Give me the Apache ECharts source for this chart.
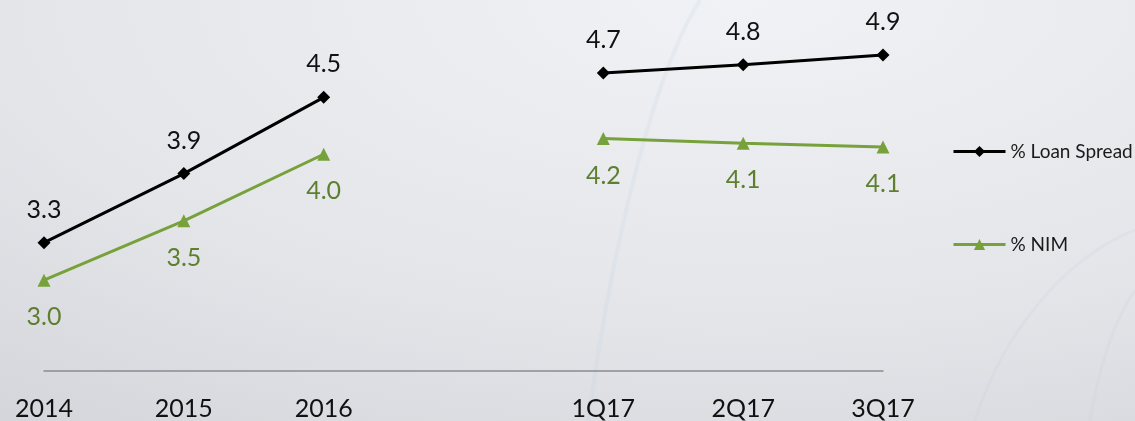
<!DOCTYPE html>
<html>
<head>
<meta charset="utf-8">
<title>% Loan Spread and % NIM</title>
<script src="https://cdn.jsdelivr.net/npm/echarts@6/dist/echarts.min.js"></script>
<style>
  html, body { margin: 0; padding: 0; }
  body {
    width: 1135px; height: 421px; overflow: hidden;
    background: radial-gradient(ellipse 120% 140% at 65% 0%, #f1f2f5 0%, #e4e5e9 55%, #d0d1d6 100%);
  }
  #chart { width: 1135px; height: 421px; }
</style>
</head>
<body>
<div id="chart"></div>
<script>
// Periods: annual figures, a spacer slot, then 2017 quarters
const categories = ['2014', '2015', '2016', '', '1Q17', '2Q17', '3Q17'];
// % Loan Spread (null = gap between annual and quarterly segments)
const loanSpread = [3.31, 3.88, 4.51, null, 4.71, 4.78, 4.86];
// % Net Interest Margin
const nim = [3.0, 3.49, 4.04, null, 4.17, 4.13, 4.10];

const FONT = 'Lato, "Open Sans", sans-serif';
const BLACK = '#000000';
const GREEN = '#77a23b';
const GREEN_TEXT = '#5d7f2f';

const chart = echarts.init(document.getElementById('chart'), null, { renderer: 'canvas' });

const fmt = p => (p.value == null ? '' : Number(p.value).toFixed(1));

chart.setOption({
  backgroundColor: 'transparent',
  animation: false,
  textStyle: { fontFamily: FONT },
  grid: { left: 44, right: 252, top: 38, bottom: 50, containLabel: false },
  legend: {
    orient: 'vertical',
    left: 947,
    top: 137,
    itemWidth: 52,
    itemHeight: 14,
    itemGap: 74,
    lineStyle: { width: 3 },
    textStyle: { fontFamily: FONT, fontSize: 19, color: '#1a1a1a' },
    data: ['% Loan Spread', '% NIM']
  },
  xAxis: {
    type: 'category',
    data: categories,
    boundaryGap: false,
    axisLine: { lineStyle: { color: '#8c8a93', width: 1.5 } },
    axisTick: { show: false },
    splitLine: { show: false },
    axisLabel: { margin: 25, fontSize: 25, color: '#111', fontFamily: FONT, interval: 0 }
  },
  yAxis: {
    type: 'value',
    min: 2.25,
    max: 5.0,
    show: false,
    splitLine: { show: false }
  },
  graphic: [
    // faint decorative swooshes in the backdrop
    {
      type: 'bezierCurve', silent: true, z: -10,
      shape: { x1: 588, y1: 421, cpx1: 610, cpy1: 260, cpx2: 650, cpy2: 80, x2: 700, y2: 0 },
      style: { stroke: 'rgba(190,212,226,0.22)', lineWidth: 4, fill: null }
    },
    {
      type: 'bezierCurve', silent: true, z: -10,
      shape: { x1: 975, y1: 421, cpx1: 1000, cpy1: 340, cpx2: 1060, cpy2: 260, x2: 1135, y2: 230 },
      style: { stroke: 'rgba(190,212,226,0.2)', lineWidth: 3, fill: null }
    },
    {
      type: 'bezierCurve', silent: true, z: -10,
      shape: { x1: 1090, y1: 421, cpx1: 1100, cpy1: 360, cpx2: 1115, cpy2: 320, x2: 1135, y2: 290 },
      style: { stroke: 'rgba(190,212,226,0.2)', lineWidth: 3, fill: null }
    }
  ],
  series: [
    {
      name: '% Loan Spread',
      type: 'line',
      data: loanSpread,
      connectNulls: false,
      symbol: 'diamond',
      symbolSize: 13,
      lineStyle: { color: BLACK, width: 3 },
      itemStyle: { color: BLACK },
      label: {
        show: true,
        position: 'top',
        distance: 14,
        fontSize: 25,
        color: '#111',
        fontFamily: FONT,
        formatter: fmt
      }
    },
    {
      name: '% NIM',
      type: 'line',
      data: nim,
      connectNulls: false,
      symbol: 'triangle',
      symbolSize: 13,
      lineStyle: { color: GREEN, width: 3 },
      itemStyle: { color: GREEN },
      label: {
        show: true,
        position: 'bottom',
        distance: 18,
        fontSize: 25,
        color: GREEN_TEXT,
        fontFamily: FONT,
        formatter: fmt
      }
    }
  ]
});
</script>
</body>
</html>
